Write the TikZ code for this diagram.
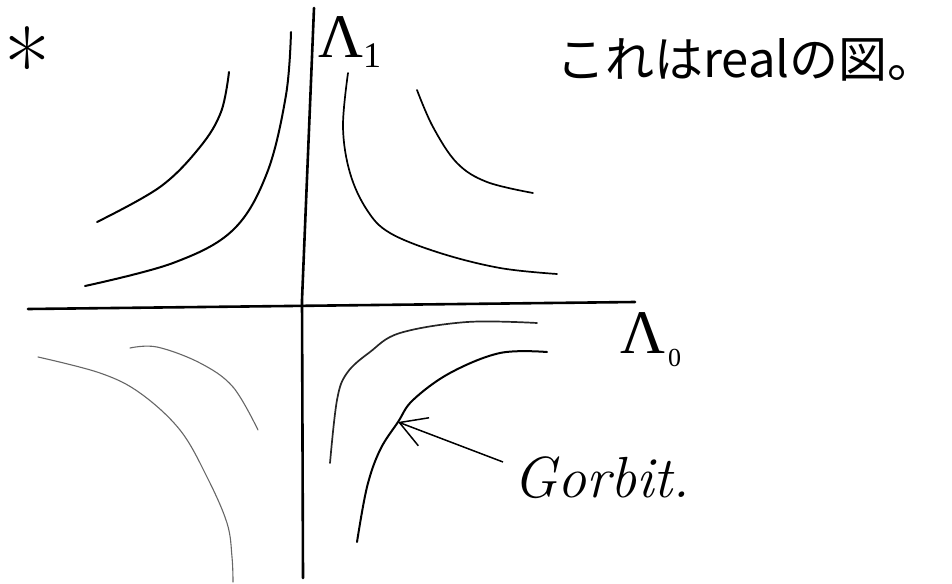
\documentclass[tikz,border=0pt]{standalone}
\usepackage{fontspec}
\newfontfamily\jpfont{Noto Sans CJK JP}
\newfontfamily\lsfont{Liberation Serif}
\usetikzlibrary{arrows.meta}
\begin{document}
\begin{tikzpicture}[x=1pt,y=-1pt,
  axisline/.style={line width=2.6pt,line cap=round,black},
  orbitA/.style={line width=2pt,line cap=round,black},
  orbitB/.style={line width=1.7pt,line cap=round,black!85},
  orbitC/.style={line width=1.1pt,line cap=round,black!60},
  lab/.style={inner sep=0pt,anchor=base west}]
\useasboundingbox (0,0) rectangle (952,583);
% axes
\coordinate (vt) at (314,8);
\coordinate (vm) at (302,300);
\coordinate (vb) at (303,578);
\coordinate (hl) at (28,309);
\coordinate (hr) at (635,302);
\draw[axisline] (vt) -- (vm) -- (vb);
\draw[axisline] (hl) -- (hr);
% upper left
\draw[orbitA] plot[smooth,tension=0.6] coordinates {(229,72) (221,112) (200,147) (160,187) (97,222)};
\draw[orbitA] plot[smooth,tension=0.6] coordinates {(291,32) (286,95) (267,173) (233,230) (173,263) (85,286)};
% upper right
\draw[orbitA,line width=1.7pt] plot[smooth,tension=0.6] coordinates {(348,73) (343,127) (350,173) (367,210) (390,233) (440,253) (500,268) (557,274)};
\draw[orbitA,line width=1.7pt] plot[smooth,tension=0.6] coordinates {(417,90) (433,127) (457,163) (487,182) (533,193)};
% lower left
\draw[orbitC] plot[smooth,tension=0.6] coordinates {(38,357) (100,373) (140,393) (180,430) (207,477) (227,523) (232,557) (233,582)};
\draw[orbitC] plot[smooth,tension=0.6] coordinates {(130,348) (157,347) (200,363) (233,387) (258,430)};
% lower right
\draw[orbitB] plot[smooth,tension=0.6] coordinates {(537,323) (467,322) (400,333) (370,352) (347,373) (337,400) (330,463)};
\draw[orbitA] plot[smooth,tension=0.6] coordinates {(547,352) (500,353) (450,373) (413,400) (398,422) (380,450) (367,487) (357,542)};
% labels
\node[lab,font=\fontsize{100}{100}\selectfont] (star) at (4,102) {*};
\node[lab,font=\lsfont\fontsize{62}{62}\selectfont] (L1) at (318,58) {Λ\raisebox{-10pt}{\fontsize{36}{36}\selectfont 1}};
\node[lab,font=\lsfont\fontsize{62}{62}\selectfont] (L0) at (620,353) {Λ\hspace{3pt}\raisebox{-13pt}{\fontsize{26}{26}\selectfont 0}};
\node[lab,font=\jpfont\fontsize{49}{49}\selectfont] (title) at (556,78) {これはrealの図。};
\node[lab,font=\itshape\fontsize{58}{58}\selectfont] (gorbit) at (513,497) {Gorbit.};
% arrow
\coordinate (gs) at (503,462);
\coordinate (gt) at (398,422);
\draw[line width=1.5pt,-{Straight Barb[length=26pt,width=30pt]}] (gs) -- (gt);
\end{tikzpicture}
\end{document}
